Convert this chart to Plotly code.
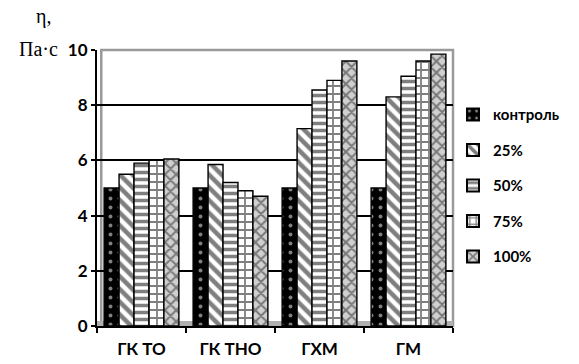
import plotly.graph_objects as go

# Viscosity of the samples at different additive contents
categories = ["ГК ТО", "ГК ТНО", "ГХМ", "ГМ"]
series_names = ["контроль", "25%", "50%", "75%", "100%"]
control = [5.0, 5.0, 5.0, 5.0]
pct25 = [5.5, 5.85, 7.15, 8.3]
pct50 = [5.9, 5.2, 8.55, 9.05]
pct75 = [6.0, 4.9, 8.9, 9.6]
pct100 = [6.05, 4.7, 9.6, 9.85]
y_ticks = [0, 2, 4, 6, 8, 10]

values = [control, pct25, pct50, pct75, pct100]

# Monochrome fills with hatching, one per series
styles = [
    dict(color="black", pattern=dict(shape=".", fgcolor="white", bgcolor="black", size=9, solidity=0.15)),
    dict(color="white", pattern=dict(shape="\\", fgcolor="black", bgcolor="white", size=9, solidity=0.5)),
    dict(color="white", pattern=dict(shape="-", fgcolor="black", bgcolor="white", size=7, solidity=0.5)),
    dict(color="white", pattern=dict(shape="+", fgcolor="black", bgcolor="white", size=8, solidity=0.4)),
    dict(color="white", pattern=dict(shape="x", fgcolor="#222", bgcolor="#d0d0d0", size=8, solidity=0.45)),
]

fig = go.Figure()
for name, vals, st in zip(series_names, values, styles):
    fig.add_trace(go.Bar(
        x=categories, y=vals, name=name,
        legendgroup=name,
        marker=dict(color=st["color"], pattern=st["pattern"],
                    line=dict(color="black", width=1.4)),
    ))

label_font = dict(family="Lato", size=17, color="black", weight="bold")

fig.update_layout(
    width=579, height=364,
    margin=dict(l=97, r=126, t=50, b=38),
    plot_bgcolor="white", paper_bgcolor="white",
    barmode="group", bargap=0.16, bargroupgap=0.0,
    showlegend=True,
    legend=dict(
        x=1.0, xanchor="left", y=0.825, yanchor="top",
        font=dict(family="Lato", size=15, color="black", weight="bold"),
        tracegroupgap=13, itemsizing="constant", itemwidth=30,
        bgcolor="rgba(0,0,0,0)",
    ),
    xaxis=dict(
        showline=True, linecolor="black", linewidth=2,
        ticks="outside", tickson="boundaries", ticklen=5, tickwidth=2, tickcolor="black",
        tickfont=label_font, showgrid=False, ticklabelstandoff=7,
        automargin=False,
    ),
    yaxis=dict(
        range=[0, 10], tickvals=y_ticks,
        showline=True, linecolor="black", linewidth=2,
        ticks="outside", ticklen=4, tickwidth=2, tickcolor="black",
        tickfont=label_font,
        showgrid=True, gridcolor="black", gridwidth=1.5,
        zeroline=False, automargin=False,
    ),
)

# Back wall frame and floor edge
fig.add_shape(type="rect", xref="paper", yref="paper", x0=0.012, x1=1.0, y0=0.0, y1=1.0,
              line=dict(color="#9a9a9a", width=2.5), layer="below")
fig.add_shape(type="rect", xref="paper", yref="paper", x0=0.0, x1=1.0, y0=0.0, y1=0.018,
              line=dict(color="#9a9a9a", width=0), fillcolor="#b0b0b0", layer="below")

# Y-axis caption
serif = dict(family="Liberation Serif", size=20, color="black")
fig.add_annotation(text="η,", xref="paper", yref="paper", x=-0.15, y=1.12,
                   xanchor="center", yanchor="middle", showarrow=False, font=serif)
fig.add_annotation(text="Па·с", xref="paper", yref="paper", x=-0.165, y=1.005,
                   xanchor="center", yanchor="middle", showarrow=False, font=serif)

fig.write_html("out.html")
